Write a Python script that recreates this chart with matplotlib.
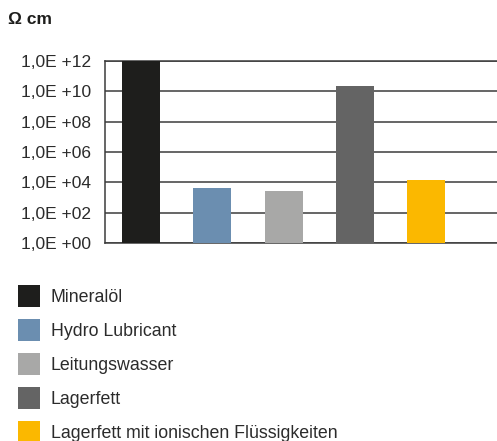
import matplotlib.pyplot as plt

# Data
labels = ['Mineralöl', 'Hydro Lubricant', 'Leitungswasser', 'Lagerfett',
          'Lagerfett mit ionischen Flüssigkeiten']
values = [1.0e12, 4.2e3, 2.7e3, 2.2e10, 1.4e4]
colors = ['#1e1e1c', '#6b8eb0', '#a8a8a7', '#646464', '#fbb800']
ticks = [1e0, 1e2, 1e4, 1e6, 1e8, 1e10, 1e12]
tick_labels = ['1,0E +00', '1,0E +02', '1,0E +04', '1,0E +06',
               '1,0E +08', '1,0E +10', '1,0E +12']

plt.rcParams['font.family'] = ['Liberation Sans', 'DejaVu Sans']

fig = plt.figure(figsize=(4.97, 4.41), dpi=100)
ax = fig.add_axes([105 / 497, 1 - 243 / 441, 392 / 497, 182 / 441])

x = range(len(values))
bars = ax.bar(x, values, width=0.535, color=colors, zorder=3)

ax.set_yscale('log')
ax.set_ylim(1, 1e12)
ax.set_xlim(-0.51, 5.0)
ax.set_yticks(ticks)
ax.set_yticklabels(tick_labels, fontsize=12.5, color='#2b2b2b')
ax.minorticks_off()
ax.set_xticks([])
ax.tick_params(axis='y', length=0, pad=10)
ax.yaxis.grid(True, color='#3c3c3c', linewidth=1.1, zorder=1)

for side in ['top', 'left', 'bottom']:
    ax.spines[side].set_color('#3c3c3c')
    ax.spines[side].set_linewidth(1.1)
ax.spines['right'].set_visible(False)

fig.text(8 / 497, 1 - 20 / 441, 'Ω cm', fontsize=12.5, fontweight='bold',
         color='#1e1e1c', va='center', ha='left')

fig.legend(bars, labels, loc='upper left', bbox_to_anchor=(11 / 497, 1 - 278 / 441),
           frameon=False, fontsize=12.75, handlelength=1.24, handleheight=1.535,
           handletextpad=0.6, labelspacing=0.68, borderaxespad=0,
           labelcolor='#2b2b2b')

plt.savefig('out.png', dpi=100)
